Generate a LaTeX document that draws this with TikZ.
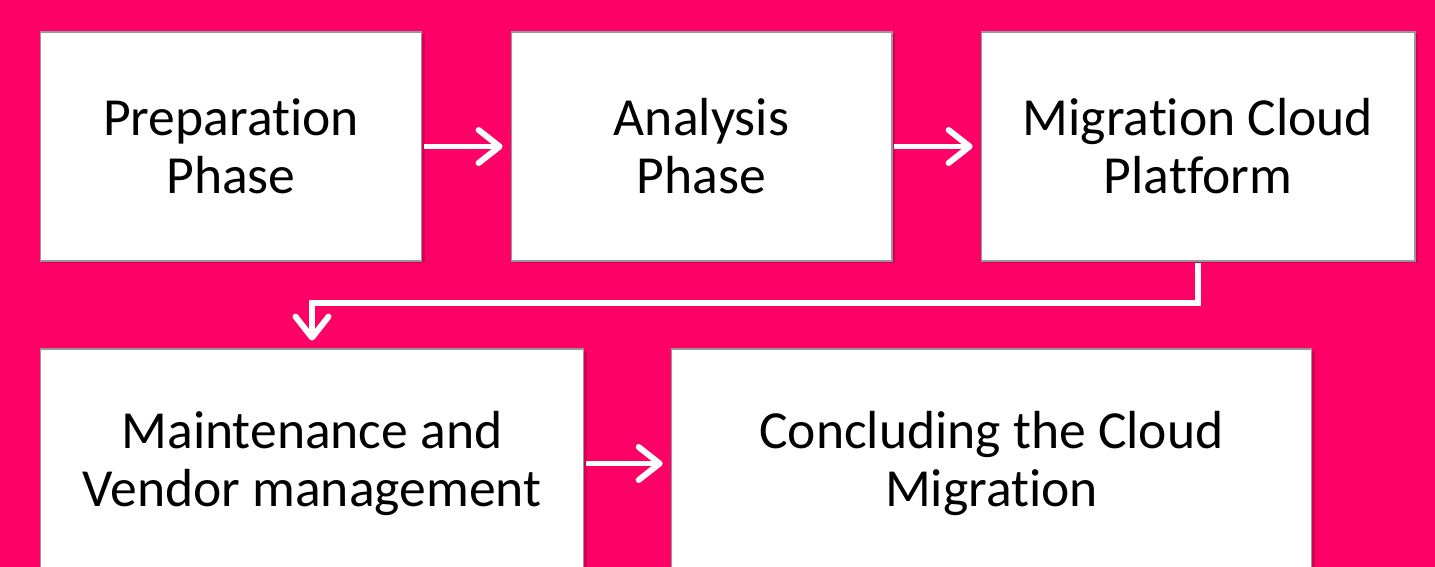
\documentclass[tikz,border=0pt]{standalone}
\usepackage{fontspec}
\setmainfont{Carlito}[Ligatures=NoCommon]
\usetikzlibrary{arrows.meta, positioning}
\definecolor{hotpink}{RGB}{255,0,102}
\definecolor{boxedge}{RGB}{150,150,155}

\begin{document}
\begin{tikzpicture}[x=0.02cm, y=-0.02cm,
    every node/.style={font=\fontsize{30.5}{33}\selectfont},
    phase/.style={draw=boxedge, line width=0.6pt, fill=white, align=center, minimum height=4.58cm, inner sep=0pt},
    flow/.style={white, line width=3.4pt, -{Straight Barb[round, length=0.42cm, width=0.66cm]}, shorten >=4.5pt, shorten <=1pt}]
  \useasboundingbox (0,0) rectangle (1435,567);
  \clip (0,0) rectangle (1435,567);
  \fill[hotpink] (0,0) rectangle (1435,567);

  % soft drop shadows under the boxes
  \foreach \xa/\ya/\xb/\yb in {40/32/422/261, 511/32/892/261, 981/32/1415/261, 40/349/584/578, 671/349/1312/578}
    \fill[black, opacity=0.18] (\xa+2,\ya+2) rectangle (\xb+2.5,\yb+2.5);

  \node[phase, minimum width=7.64cm] (prep) at (231,146.5) {Preparation\\Phase};
  \node[phase, minimum width=7.62cm] (anal) at (701.5,146.5) {Analysis\\Phase};
  \node[phase, minimum width=8.68cm] (migr) at (1198,146.5) {Migration Cloud\\Platform};
  \node[phase, minimum width=10.88cm] (vend) at (312,463.5) {Maintenance and\\Vendor management};
  \node[phase, minimum width=12.82cm] (conc) at (991.5,463.5) {Concluding the Cloud\\Migration};

  \draw[flow] (prep) -- (anal);
  \draw[flow] (anal) -- (migr);
  \draw[flow] (migr.south) |- (760,303) -| (vend.north);
  \draw[flow] (vend) -- (conc);
\end{tikzpicture}
\end{document}
